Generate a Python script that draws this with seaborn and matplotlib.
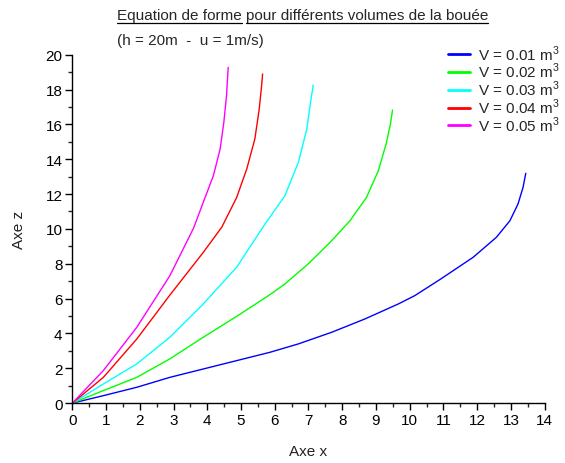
import numpy as np
import pandas as pd
import matplotlib
matplotlib.use("Agg")
import matplotlib.pyplot as plt
import seaborn as sns
from matplotlib.lines import Line2D
from matplotlib.ticker import MultipleLocator

# ---- data ----
volumes = ["0.01", "0.02", "0.03", "0.04", "0.05"]
x_v1 = [0, 0.92, 1.91, 2.89, 3.88, 4.87, 5.86, 6.70, 7.69, 8.67, 9.66, 10.15, 10.90, 11.88, 12.57, 12.97, 13.21, 13.36, 13.44]
z_v1 = [0, 0.43, 0.91, 1.48, 1.96, 2.44, 2.92, 3.40, 4.07, 4.83, 5.69, 6.17, 7.10, 8.37, 9.52, 10.47, 11.43, 12.39, 13.19]
x_v2 = [0, 0.92, 1.91, 2.89, 3.88, 4.87, 5.86, 6.30, 6.99, 7.64, 8.23, 8.72, 9.07, 9.30, 9.43, 9.49]
z_v2 = [0, 0.72, 1.48, 2.54, 3.78, 4.98, 6.23, 6.84, 7.99, 9.23, 10.47, 11.81, 13.34, 14.87, 16.02, 16.82]
x_v3 = [0, 0.92, 1.91, 2.89, 3.88, 4.87, 5.71, 6.30, 6.70, 6.95, 7.06, 7.14]
z_v3 = [0, 1.10, 2.25, 3.78, 5.69, 7.80, 10.28, 11.90, 13.82, 15.73, 17.26, 18.26]
x_v4 = [0, 0.92, 1.91, 2.89, 3.88, 4.43, 4.87, 5.17, 5.41, 5.54, 5.61, 5.64]
z_v4 = [0, 1.48, 3.68, 6.20, 8.65, 10.10, 11.80, 13.44, 15.16, 16.88, 18.22, 18.89]
x_v5 = [0, 0.92, 1.91, 2.89, 3.59, 3.88, 4.18, 4.38, 4.49, 4.57, 4.62]
z_v5 = [0, 1.87, 4.35, 7.31, 10.03, 11.52, 13.05, 14.58, 16.10, 17.64, 19.27]
colors = ["#0000ff", "#00ff00", "#00ffff", "#ff0000", "#ff00ff"]

xs = [x_v1, x_v2, x_v3, x_v4, x_v5]
zs = [z_v1, z_v2, z_v3, z_v4, z_v5]
frames = []
for v, x, z in zip(volumes, xs, zs):
    lab = "V = %s m$^3$" % v
    frames.append(pd.DataFrame({"x": x, "z": z, "V": lab}))
df = pd.concat(frames, ignore_index=True)
labels = ["V = %s m$^3$" % v for v in volumes]

sns.set_style("ticks")
plt.rcParams["font.family"] = ["Liberation Sans", "DejaVu Sans"]
plt.rcParams["mathtext.fontset"] = "custom"
plt.rcParams["mathtext.rm"] = "Liberation Sans"

fig = plt.figure(figsize=(5.65, 4.64), dpi=100)
ax = fig.add_axes([0.128, 0.129, 0.836, 0.751])

sns.lineplot(data=df, x="x", y="z", hue="V", hue_order=labels,
             palette=colors, sort=False, estimator=None, units="V",
             linewidth=1.0, ax=ax, legend=False)

ax.set_xlim(0, 14)
ax.set_ylim(0, 20)
ax.xaxis.set_major_locator(MultipleLocator(1))
ax.xaxis.set_minor_locator(MultipleLocator(0.5))
ax.yaxis.set_major_locator(MultipleLocator(2))
ax.yaxis.set_minor_locator(MultipleLocator(1))
ax.tick_params(which="major", length=5, width=1, direction="out", labelsize=11, colors="black", pad=2)
ax.tick_params(which="minor", length=3, width=1, direction="out")
for s in ["top", "right"]:
    ax.spines[s].set_visible(False)
for s in ["left", "bottom"]:
    ax.spines[s].set_color("black")
    ax.spines[s].set_linewidth(1)

ax.set_xlabel("Axe x", fontsize=11, labelpad=12, color="#222222")
ax.set_ylabel("Axe z", fontsize=11, labelpad=14, color="#222222")

handles = [Line2D([0], [0], color=c, lw=2) for c in colors]
leg = ax.legend(handles, labels, loc="upper right", bbox_to_anchor=(1.045, 1.05),
                frameon=False, fontsize=11, handlelength=1.5, handletextpad=0.5,
                labelspacing=-0.1, borderaxespad=0)

# title (two lines, underlined first line)
t1 = fig.text(117 / 565, 1 - 20 / 464, "Equation de forme", fontsize=11, ha="left", va="baseline")
fig.canvas.draw()
r = fig.canvas.get_renderer()
bb1 = t1.get_window_extent(r)
t2 = fig.text((bb1.x1 + 4) / 565, 1 - 20 / 464, "pour différents volumes de la bouée",
              fontsize=11, ha="left", va="baseline")
fig.canvas.draw()
bb2 = t2.get_window_extent(r)
uy = (bb1.y0 - 0.5) / 464
for bb in (bb1, bb2):
    fig.add_artist(Line2D([bb.x0 / 565, bb.x1 / 565], [uy, uy], color="black", lw=0.9,
                          transform=fig.transFigure))
fig.text(117 / 565, 1 - 45 / 464, "(h = 20m  -  u = 1m/s)", fontsize=11, ha="left", va="baseline")

fig.savefig("out.png", dpi=100, facecolor="white")
